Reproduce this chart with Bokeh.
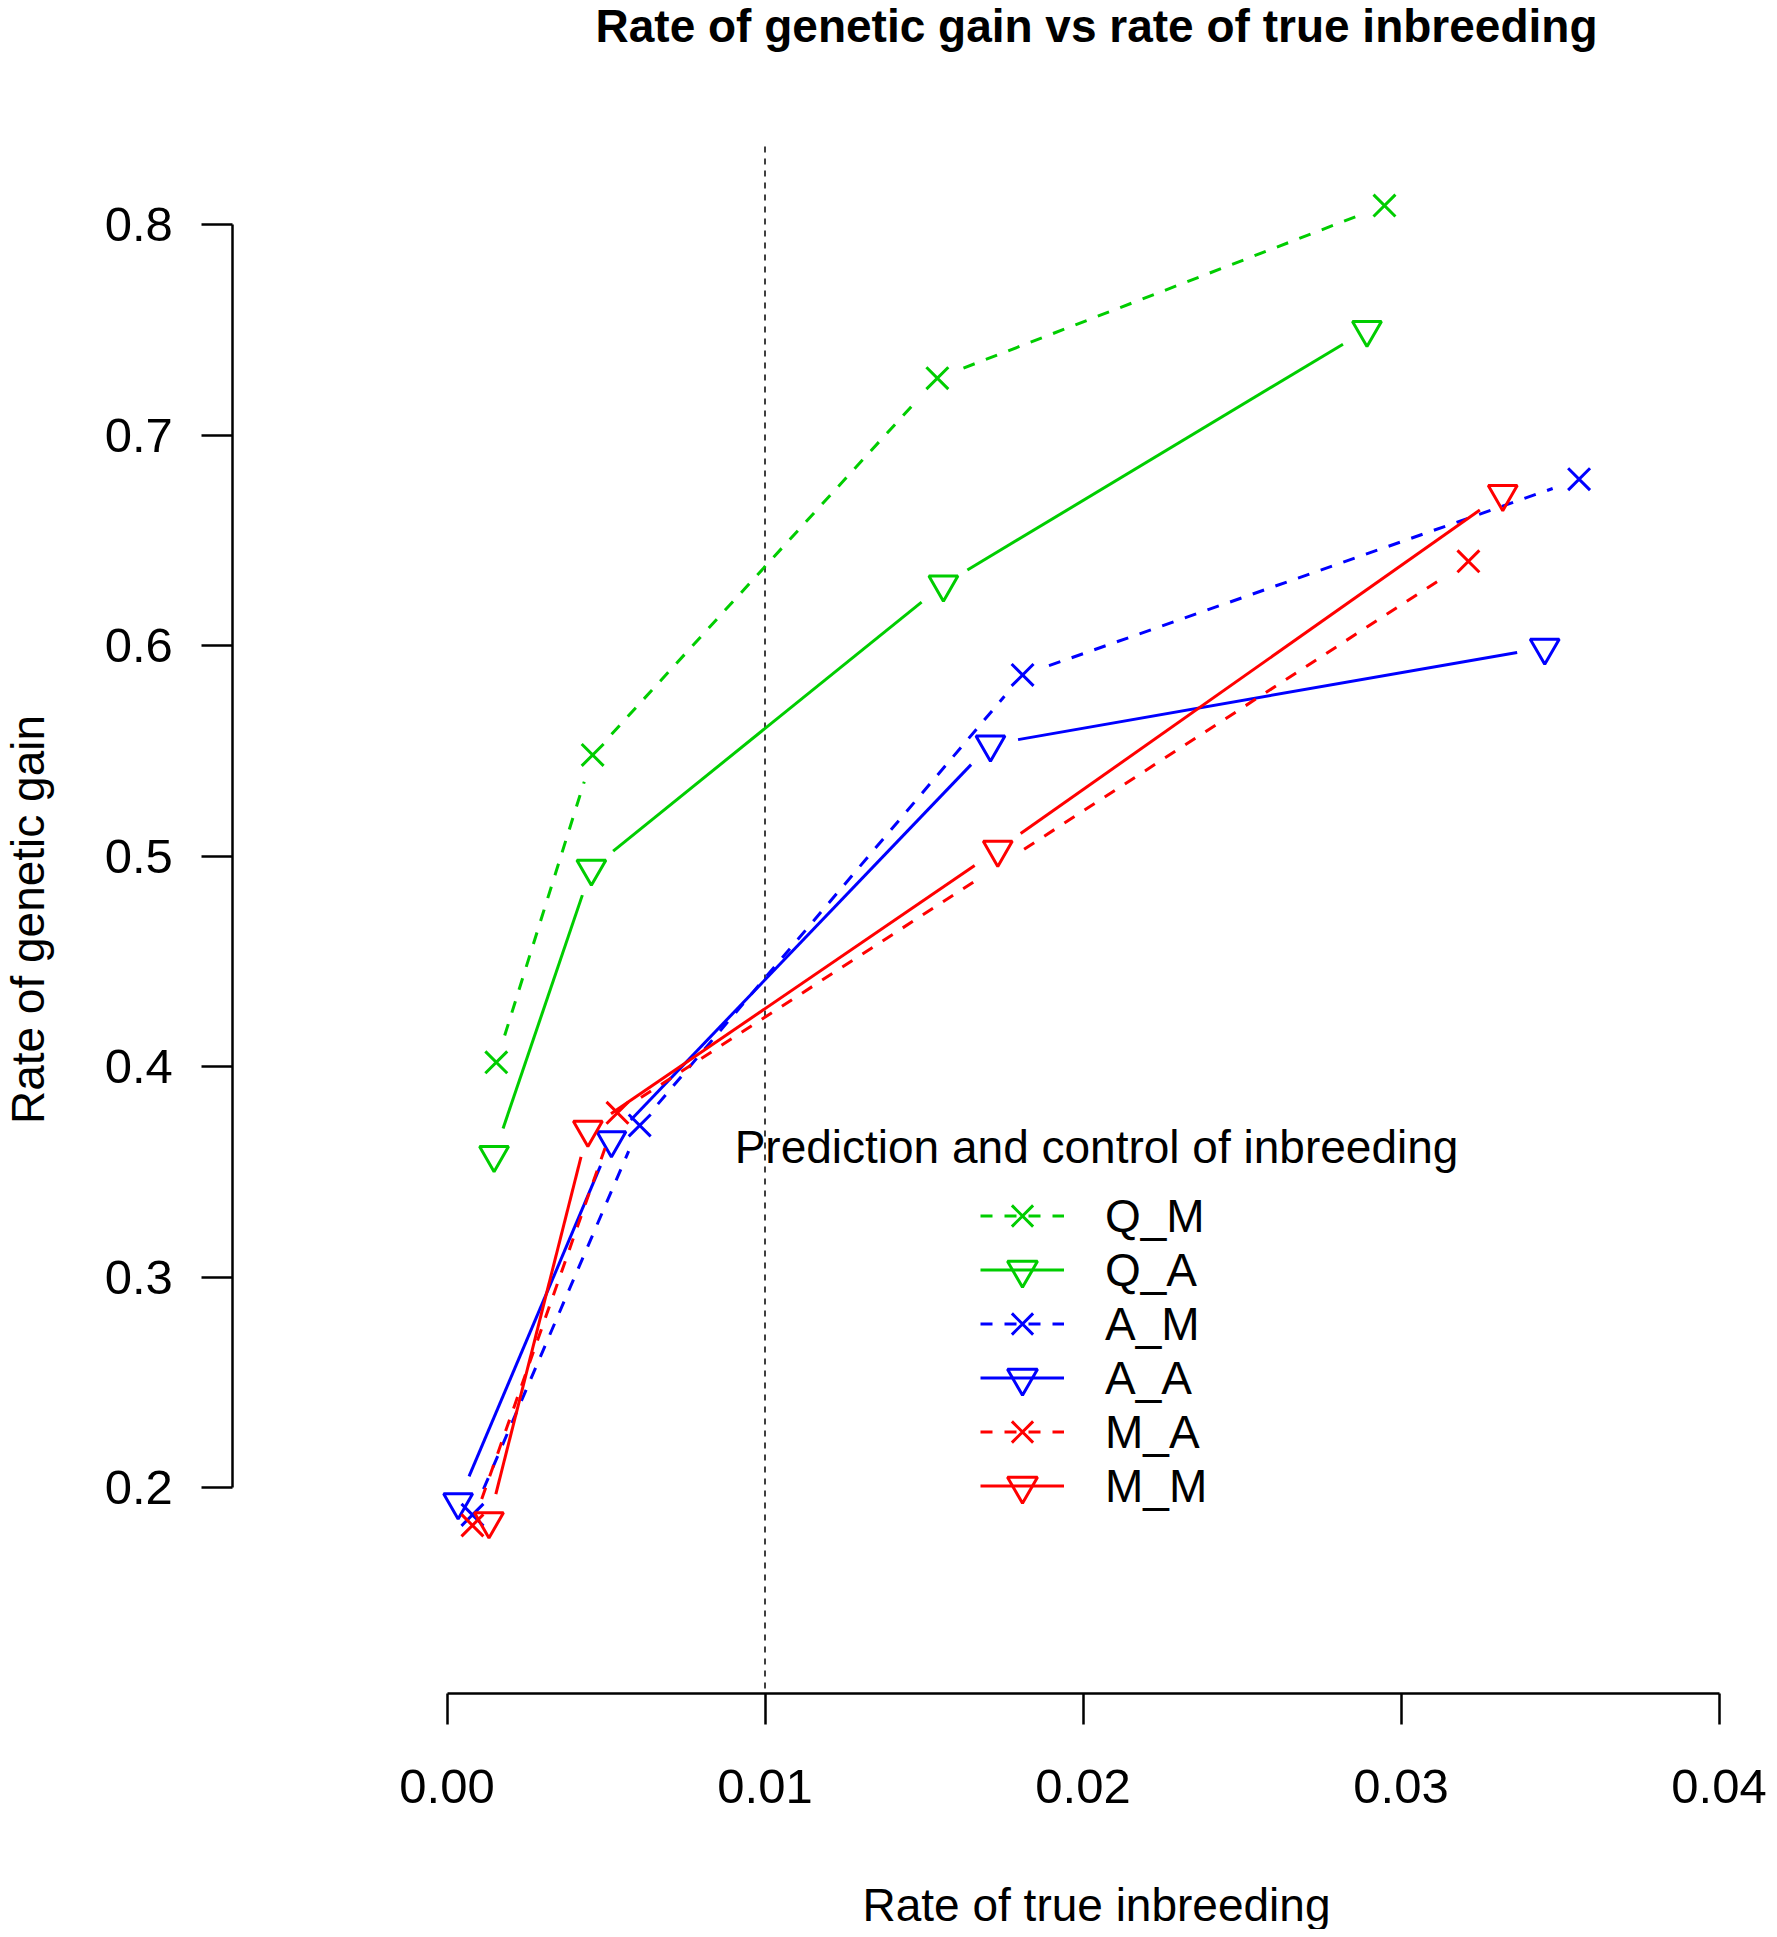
import numpy as np
from bokeh.plotting import figure
from bokeh.models import (Range1d, FixedTicker, Label, Legend, LegendItem,
                          ColumnDataSource)
from bokeh.embed import file_html
from bokeh.resources import INLINE

# ---------------- data ----------------
series_names = ["Q_M", "Q_A", "A_M", "A_A", "M_A", "M_M"]

qm_x = [0.00155, 0.00458, 0.01542, 0.02948]
qm_y = [0.402, 0.548, 0.727, 0.809]
qa_x = [0.00148, 0.00454, 0.01561, 0.02893]
qa_y = [0.358, 0.494, 0.629, 0.750]
am_x = [0.00080, 0.00606, 0.01810, 0.03560]
am_y = [0.187, 0.372, 0.586, 0.679]
aa_x = [0.00035, 0.00517, 0.01709, 0.03452]
aa_y = [0.193, 0.365, 0.553, 0.599]
ma_x = [0.00080, 0.00536, 0.01741, 0.03212]
ma_y = [0.182, 0.378, 0.496, 0.640]
mm_x = [0.00132, 0.00443, 0.01732, 0.03320]
mm_y = [0.184, 0.370, 0.503, 0.672]

ref_line_x = 0.01

x_ticks = [0.00, 0.01, 0.02, 0.03, 0.04]
x_tick_labels = ["0.00", "0.01", "0.02", "0.03", "0.04"]
y_ticks = [0.2, 0.3, 0.4, 0.5, 0.6, 0.7, 0.8]
y_tick_labels = ["0.2", "0.3", "0.4", "0.5", "0.6", "0.7", "0.8"]

title_text = "Rate of genetic gain vs rate of true inbreeding"
xlab_text = "Rate of true inbreeding"
ylab_text = "Rate of genetic gain"
legend_title_text = "Prediction and control of inbreeding"

# ---------------- layout: the frame covers the whole canvas ----------------
W, H = 1769, 1929
PX0, KX = 446.5, 31800.0    # pixel of x = 0 and pixels per unit x
PY8, KY = 224.0, 2105.0     # pixel of y = 0.8 and pixels per unit y


def X(px):
    return (px - PX0) / KX


def Y(py):
    return 0.8 - (py - PY8) / KY


FONT = "Liberation Sans"
GREEN, BLUE, RED = "#00CD00", "#0000FF", "#FF0000"

p = figure(width=W, height=H, output_backend="svg", toolbar_location=None,
           x_range=Range1d(X(0), X(W)), y_range=Range1d(Y(H), Y(0)),
           min_border=0, min_border_left=0, min_border_right=0,
           min_border_top=0, min_border_bottom=0, title=None)
p.outline_line_color = None
p.grid.visible = False
p.background_fill_color = "white"
p.border_fill_color = "white"

# plot region (R "usr" box)
reg_left, reg_bottom, reg_top = X(232.3), Y(1693), Y(146)

p.xaxis.fixed_location = reg_bottom
p.yaxis.fixed_location = reg_left

for ax, ticks, labels, bounds in ((p.xaxis, x_ticks, x_tick_labels, (0.0, 0.04)),
                                  (p.yaxis, y_ticks, y_tick_labels, (0.2, 0.8))):
    ax.ticker = FixedTicker(ticks=ticks)
    ax.major_label_overrides = {t: l for t, l in zip(ticks, labels)}
    ax.bounds = bounds
    ax.axis_line_width = 2.5
    ax.axis_line_color = "black"
    ax.major_tick_line_width = 2.5
    ax.major_tick_line_color = "black"
    ax.major_tick_out = 31
    ax.major_tick_in = 0
    ax.minor_tick_line_color = None
    ax.major_label_text_font = FONT
    ax.major_label_text_font_size = "49px"
    ax.major_label_text_color = "black"
p.xaxis.major_label_standoff = 45
p.yaxis.major_label_standoff = 29

# dashed reference line at x = 0.01 across the plot region (drawn top-down)
p.segment(x0=[ref_line_x], y0=[reg_top], x1=[ref_line_x], y1=[reg_bottom],
          line_color="black", line_width=1.5, line_dash="6 6")


def gapped(xs, ys, gap=28.0):
    xs = np.asarray(xs, float)
    ys = np.asarray(ys, float)
    d = np.hypot(np.diff(xs) * KX, np.diff(ys) * KY)
    f = np.clip(gap / d, 0, 0.5)
    return dict(x0=xs[:-1] + np.diff(xs) * f, y0=ys[:-1] + np.diff(ys) * f,
                x1=xs[1:] - np.diff(xs) * f, y1=ys[1:] - np.diff(ys) * f)


specs = [
    ("Q_M", qm_x, qm_y, GREEN, "12 12", "x", None),
    ("Q_A", qa_x, qa_y, GREEN, "solid", "inverted_triangle", None),
    ("A_M", am_x, am_y, BLUE, "12 12", "x", None),
    ("A_A", aa_x, aa_y, BLUE, "solid", "inverted_triangle", None),
    ("M_A", ma_x, ma_y, RED, "12 12", "x", [0, 1, 3]),  # 3rd marker not visible in original
    ("M_M", mm_x, mm_y, RED, "solid", "inverted_triangle", None),
]

GLYPH_H = 75          # legend marker size = 0.4 * glyph height
ROW0, ROW_STEP = 1215, 54   # pixel centre of first legend row, row pitch

for i, (name, xs, ys, col, dash, marker, idx) in enumerate(specs):
    seg = p.segment(x0="x0", y0="y0", x1="x1", y1="y1",
                    source=ColumnDataSource(gapped(xs, ys)),
                    line_color=col, line_width=3, line_dash=dash)
    if idx is None:
        idx = list(range(len(xs)))
    size = 31 if marker == "x" else 29
    sc = p.scatter([xs[i2] for i2 in idx], [ys[i2] for i2 in idx],
                   marker=marker, size=size, line_color=col, line_width=3,
                   fill_alpha=0)
    centre = ROW0 + i * ROW_STEP
    leg = Legend(items=[LegendItem(label=name, renderers=[seg, sc])],
                 location=(980, int(round(H - (centre + GLYPH_H / 2)))),
                 padding=0, margin=0, spacing=0, glyph_width=84,
                 glyph_height=GLYPH_H, label_height=51, label_standoff=41,
                 label_text_font=FONT, label_text_font_size="46px",
                 label_text_color="black", background_fill_alpha=0,
                 border_line_alpha=0)
    p.add_layout(leg)

common = dict(text_font=FONT, text_font_size="46px", text_color="black",
              text_align="center", text_baseline="alphabetic")
p.add_layout(Label(x=X(1096), y=Y(25), text=title_text,
                   text_font_style="bold", **common))
p.add_layout(Label(x=X(1096), y=Y(1904), text=xlab_text, **common))
p.add_layout(Label(x=X(27), y=Y(919), text=ylab_text, angle=np.pi / 2,
                   **common))
p.add_layout(Label(x=X(1096), y=Y(1146), text=legend_title_text, **common))

open("out.html", "w").write(file_html(p, INLINE))
